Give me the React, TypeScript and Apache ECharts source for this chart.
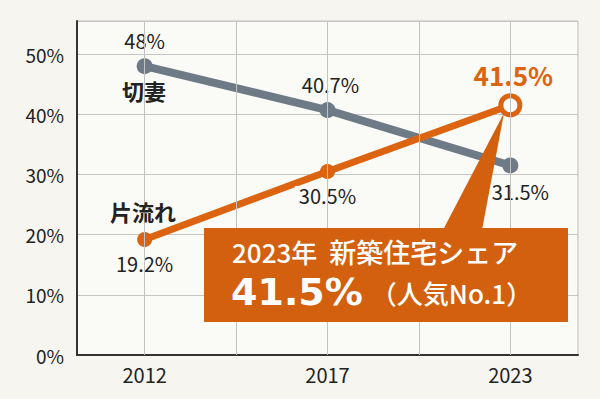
import React, { useEffect, useRef } from "react";
import * as echarts from "echarts";

const years = ["2012", "2017", "2023"];
const kirizuma = [48, 40.7, 31.5];
const katanagare = [19.2, 30.5, 41.5];
const yMax = 55.5;
const gridXs = [0, 0.5, 1, 1.5, 2];

const GRAY = "#6e7a86";
const ORANGE = "#dc6310";
const BOX = "#d2600e";
const FONT = "'Noto Sans CJK JP', 'Noto Sans', sans-serif";
const BIG_FONT = "'DejaVu Sans', 'Noto Sans', sans-serif";
const PLOT_BG = "#fafaf7";

export default function App() {
  const ref = useRef<HTMLDivElement>(null);
  useEffect(() => {
    if (!ref.current) return;
    const chart = echarts.init(ref.current, null, { renderer: "svg" });
    const baseLabel = {
      show: true,
      fontFamily: FONT,
      fontSize: 20,
      color: "#222",
      backgroundColor: PLOT_BG,
      padding: [0, 4],
    };
    const grayPos = ["top", "top", "bottom"];
    const grayOff = [[0, 0], [3, 0], [10, 0]];
    const orangePos = ["bottom", "bottom", "top"];
    const option: any = {
      animation: false,
      backgroundColor: "#f6f5ef",
      textStyle: { fontFamily: FONT },
      grid: {
        left: 77,
        right: 22,
        top: 21,
        bottom: 44,
        show: true,
        backgroundColor: PLOT_BG,
        borderColor: "#bdbdbd",
        borderWidth: 1,
      },
      xAxis: {
        type: "value",
        min: -0.37,
        max: 2.37,
        splitLine: { show: false },
        axisTick: { show: false },
        axisLine: { show: true, onZero: false, lineStyle: { color: "#333", width: 2 } },
        axisLabel: {
          customValues: [0, 1, 2],
          formatter: (v: number) => years[Math.round(v)] ?? "",
          fontFamily: FONT,
          fontSize: 20,
          color: "#222",
          margin: 9,
        },
      },
      yAxis: {
        type: "value",
        min: 0,
        max: yMax,
        interval: 10,
        axisLine: { show: true, onZero: false, lineStyle: { color: "#333", width: 2 } },
        axisTick: { show: false },
        splitLine: { show: true, lineStyle: { color: "#c6c6c6", width: 1 } },
        axisLabel: {
          showMaxLabel: false,
          formatter: (v: number) => (v % 10 === 0 ? v + "%" : ""),
          fontFamily: FONT,
          fontSize: 19,
          color: "#222",
          margin: 13,
        },
      },
      series: [
        {
          type: "line",
          data: [],
          z: 1,
          silent: true,
          markLine: {
            silent: true,
            symbol: ["none", "none"],
            label: { show: false },
            lineStyle: { color: "#c2c2c2", width: 1, type: "solid" },
            data: gridXs.map((x) => ({ xAxis: x })),
          },
        },
        {
          type: "line",
          name: "切妻",
          z: 3,
          lineStyle: { color: GRAY, width: 8 },
          itemStyle: { color: GRAY },
          symbol: "circle",
          symbolSize: 16,
          data: kirizuma.map((v, i) => ({
            value: [i, v],
            label: {
              ...baseLabel,
              position: grayPos[i],
              distance: 8,
              offset: grayOff[i],
              formatter: v + "%",
            },
          })),
        },
        {
          type: "line",
          name: "片流れ",
          z: 4,
          lineStyle: { color: ORANGE, width: 7 },
          itemStyle: { color: ORANGE },
          symbol: "circle",
          symbolSize: 15,
          data: katanagare.map((v, i) => {
            const last = i === katanagare.length - 1;
            return {
              value: [i, v],
              symbolSize: last ? 19 : 15,
              itemStyle: last
                ? { color: "#fff", borderColor: ORANGE, borderWidth: 5 }
                : { color: ORANGE },
              label: last
                ? {
                    ...baseLabel,
                    position: "top",
                    distance: 6,
                    offset: [3, 0],
                    fontSize: 26,
                    fontWeight: "bold",
                    color: ORANGE,
                    formatter: v + "%",
                  }
                : {
                    ...baseLabel,
                    position: orangePos[i],
                    distance: 7,
                    formatter: v + "%",
                  },
            };
          }),
        },
      ],
      graphic: [
        {
          type: "text",
          x: 144,
          y: 90,
          z: 10,
          style: {
            text: "切妻",
            fontFamily: FONT,
            fontSize: 22,
            fontWeight: "bold",
            fill: "#222",
            align: "center",
            verticalAlign: "middle",
          },
        },
        {
          type: "text",
          x: 143,
          y: 211,
          z: 10,
          style: {
            text: "片流れ",
            fontFamily: FONT,
            fontSize: 22,
            fontWeight: "bold",
            fill: "#222",
            align: "center",
            verticalAlign: "middle",
          },
        },
        {
          type: "polygon",
          z: 20,
          shape: { points: [[443, 230], [482, 230], [504, 113]] },
          style: { fill: BOX },
        },
        {
          type: "rect",
          z: 20,
          shape: { x: 204, y: 228, width: 364, height: 94 },
          style: { fill: BOX },
        },
        {
          type: "text",
          x: 232,
          y: 251,
          z: 21,
          style: {
            text: "{y|2023年}{s|新築住宅シェア}",
            fontFamily: FONT,
            fill: "#fff",
            align: "left",
            verticalAlign: "middle",
            rich: {
              y: { fontFamily: FONT, fontSize: 26, fontWeight: 500, fill: "#fff", lineHeight: 27 },
              s: { fontFamily: FONT, fontSize: 27, fontWeight: 500, fill: "#fff", lineHeight: 27, padding: [0, 0, 0, 12] },
            },
          },
        },
        {
          type: "text",
          x: 231,
          y: 292,
          z: 21,
          style: {
            text: "{a|41.5%}{b|（人気No.1）}",
            fontFamily: FONT,
            fill: "#fff",
            align: "left",
            verticalAlign: "middle",
            rich: {
              a: { fontFamily: BIG_FONT, fontSize: 38, fontWeight: "bold", fill: "#fff", lineHeight: 38 },
              b: { fontFamily: FONT, fontSize: 26, fontWeight: 500, fill: "#fff", lineHeight: 38, padding: [0, 0, 0, 8] },
            },
          },
        },
      ],
    };
    chart.setOption(option);
    return () => chart.dispose();
  }, []);
  return (
    <div
      ref={ref}
      style={{ position: "fixed", left: 0, top: 0, width: 600, height: 399 }}
    />
  );
}
